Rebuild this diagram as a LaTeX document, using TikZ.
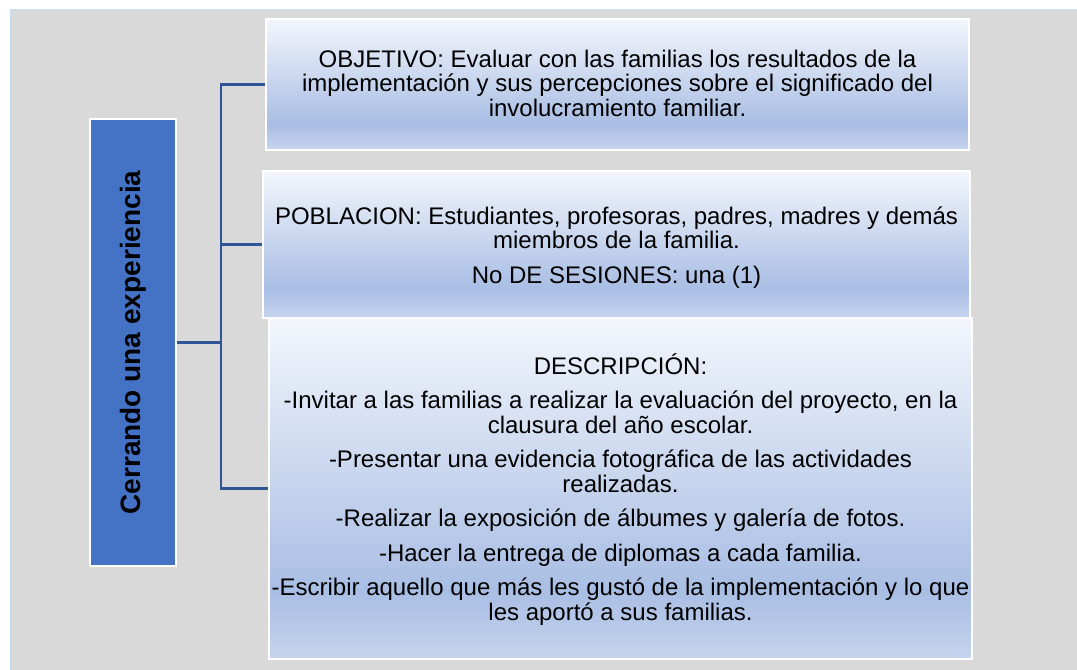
\documentclass[tikz,border=0pt]{standalone}
\usepackage{fontspec}
\setmainfont{Liberation Sans}
\usetikzlibrary{positioning}
\definecolor{bgrey}{RGB}{217,217,217}
\definecolor{framecol}{RGB}{197,222,242}
\definecolor{titleblue}{RGB}{68,114,196}
\definecolor{linkblue}{RGB}{47,85,151}
\definecolor{shtop}{RGB}{243,246,252}
\definecolor{shdark}{RGB}{169,190,228}
\definecolor{shbot}{RGB}{198,212,237}
\pgfdeclareverticalshading{panelshade}{100bp}{color(0bp)=(shbot); color(25bp)=(shbot); color(35bp)=(shdark); color(75bp)=(shtop); color(100bp)=(shtop)}
\tikzset{
  panel/.style={draw=white,line width=1.5pt,shading=panelshade,minimum width=527pt},
  title/.style={draw=white,line width=1.5pt,fill=titleblue,minimum width=64.5pt,minimum height=335pt},
  txt/.style={align=center,inner sep=0pt,anchor=north,font=\fontsize{18}{18.4}\selectfont},
  link/.style={draw=linkblue,line width=2pt},
}

\begin{document}
\begin{tikzpicture}[x=0.75pt,y=-0.75pt]
  \useasboundingbox (0,0) rectangle (1077,669);
  \fill[white] (0,0) rectangle (1077,669);
  \draw[framecol,fill=bgrey,line width=0.75pt] (10,9) rectangle (1090,680);
  % left title
  \node[title] (cerr) at (133,342.5) {};
  \node[rotate=90,inner sep=0pt,font=\fontsize{21}{24}\selectfont\bfseries] (cerrtxt) at (cerr.center) {Cerrando una experiencia};
  % panels
  \node[panel,minimum height=98pt] (obj) at (617.5,84.5) {};
  \node[panel,minimum width=530pt,minimum height=110pt] (pob) at (616.5,244.5) {};
  \node[panel,minimum height=256pt] (desc) at (620.5,488.5) {};
  \node[txt] (objtxt) at (617.5,49.5) {OBJETIVO: Evaluar con las familias los resultados de la\\implementación y sus percepciones sobre el significado del\\involucramiento familiar.};
  \node[txt] (pobtxt) at (616.5,206.5) {POBLACION: Estudiantes, profesoras, padres, madres y demás\\miembros de la familia.\\[7.5pt]No DE SESIONES: una (1)};
  \node[txt] (desctxt) at (620.5,353) {DESCRIPCIÓN:\\[7.5pt]-Invitar a las familias a realizar la evaluación del proyecto, en la\\clausura del año escolar.\\[7.5pt]-Presentar una evidencia fotográfica de las actividades\\realizadas.\\[7.5pt]-Realizar la exposición de álbumes y galería de fotos.\\[7.5pt]-Hacer la entrega de diplomas a cada familia.\\[7.5pt]-Escribir aquello que más les gustó de la implementación y lo que\\les aportó a sus familias.};
  % connectors
  \coordinate (hub) at (221,342.5);
  \draw[link] (cerr.east) -- (hub);
  \draw[link] (hub) |- (obj.west);
  \draw[link] (hub) |- (pob.west);
  \draw[link] (hub) |- (desc.west);
\end{tikzpicture}
\end{document}
